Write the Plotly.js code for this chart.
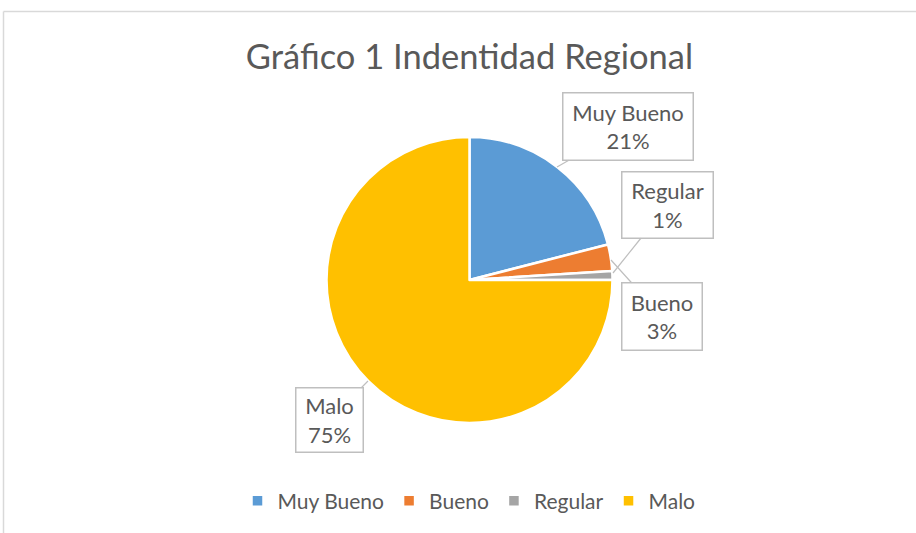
<!DOCTYPE html>
<html>
<head>
<meta charset="utf-8">
<script src="https://cdn.plot.ly/plotly-3.0.1.min.js"></script>
<style>html,body{margin:0;padding:0;background:#fff;}#chart{width:916px;height:533px;}</style>
</head>
<body>
<div id="chart"></div>
<script>
const categories = ["Muy Bueno", "Bueno", "Regular", "Malo"];
const values = [21, 3, 1, 75];
const percentLabels = ["21%", "3%", "1%", "75%"];
const colors = ["#5B9BD5", "#ED7D31", "#A5A5A5", "#FFC000"];

const W = 916, H = 533;
const FONT = "Lato, 'Open Sans', sans-serif";
const TXT = "#595959";
const px = v => v / W;
const py = v => 1 - v / H;

// label box placement: [head x, head y, box center x, box center y, box w, box h]
const boxes = [
  [557, 167, 628, 126.5, 125, 62],
  [611, 260, 662, 316.5, 75, 62],
  [613, 273, 667.5, 205, 86, 61],
  [368, 381, 329.5, 420, 62, 59]
];

const annotations = categories.map((c, i) => {
  const b = boxes[i];
  return {
    x: px(b[0]), y: py(b[1]), xref: "paper", yref: "paper",
    ax: b[2] - b[0], ay: b[3] - b[1], axref: "pixel", ayref: "pixel",
    text: c + "<br>" + percentLabels[i],
    showarrow: true, arrowhead: 0, arrowwidth: 1.2, arrowcolor: "#BFBFBF",
    standoff: 0, startstandoff: 0,
    bordercolor: "#BFBFBF", borderwidth: 1.5, borderpad: 2, bgcolor: "#FFFFFF",
    width: b[4], height: b[5], align: "center", valign: "middle",
    font: {family: FONT, size: 22, color: TXT}
  };
});

const data = [{
  type: "pie",
  labels: categories,
  values: values,
  sort: false,
  direction: "clockwise",
  rotation: 0,
  textinfo: "none",
  hoverinfo: "label+percent",
  marker: {colors: colors, line: {color: "#FFFFFF", width: 2.5}},
  domain: {x: [px(326.5), px(612.5)], y: [py(423), py(137)]}
}];

const layout = {
  width: W, height: H,
  margin: {l: 0, r: 0, t: 0, b: 0},
  paper_bgcolor: "#FFFFFF",
  title: {text: "Gráfico 1 Indentidad Regional", x: px(469.5), xanchor: "center", y: py(57), yanchor: "middle",
          font: {family: FONT, size: 34.5, color: TXT}},
  showlegend: true,
  legend: {orientation: "h", x: px(469), xanchor: "center", y: py(501), yanchor: "middle",
           font: {family: FONT, size: 21, color: TXT}, itemwidth: 30, traceorder: "normal"},
  annotations: annotations,
  shapes: [
    {type: "line", xref: "paper", yref: "paper", x0: px(3.5), x1: px(916), y0: py(11.5), y1: py(11.5), line: {color: "#D9D9D9", width: 1.5}},
    {type: "line", xref: "paper", yref: "paper", x0: px(3.5), x1: px(3.5), y0: py(11.5), y1: py(533), line: {color: "#D9D9D9", width: 1.5}}
  ]
};

Plotly.newPlot("chart", data, layout, {displayModeBar: false, staticPlot: true});
</script>
</body>
</html>
